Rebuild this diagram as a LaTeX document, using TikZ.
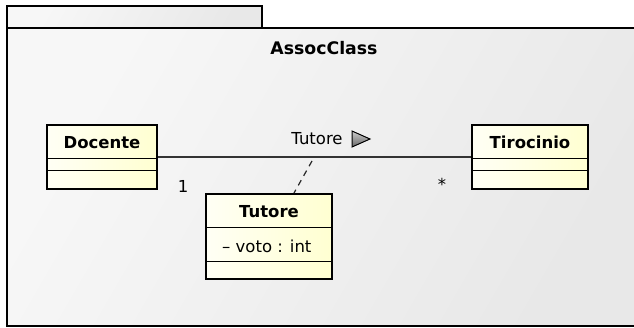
\documentclass[tikz,border=0pt]{standalone}
\usepackage{fontspec}
\setmainfont{DejaVu Sans}
\begin{document}
\begin{tikzpicture}[x=1pt,y=-1pt,
  pkg/.style={draw=black,line width=2pt,left color=white!97!black,right color=black!9,shading angle=60},
  classbox/.style={draw=black,line width=2pt,left color=yellow!4,right color=yellow!18!white,inner sep=0pt},
  comp/.style={draw=black,line width=1pt},
  cname/.style={font=\bfseries\fontsize{16.5}{18}\selectfont,inner sep=0pt,anchor=base},
  txt/.style={font=\fontsize{16.5}{18}\selectfont,inner sep=0pt},
  assoc/.style={draw=black!80,line width=1.2pt}]
\useasboundingbox (0,0) rectangle (634,328);
% package
\path[pkg] (7,6) rectangle (262,28.5);
\path[pkg] (7,28.5) rectangle (640,326);
\node[font=\bfseries\fontsize{17.3}{19}\selectfont,inner sep=0pt,anchor=base] (title) at (324,55) {AssocClass};
% classes
\node[classbox,minimum width=110pt,minimum height=64pt] (doc) at (102,157) {};
\node[cname] (docn) at (102,148.5) {Docente};
\draw[comp] ([yshift=-35pt]doc.north west) -- ([yshift=-35pt]doc.north east);
\draw[comp] ([yshift=-47pt]doc.north west) -- ([yshift=-47pt]doc.north east);
\node[classbox,minimum width=116pt,minimum height=64pt] (tir) at (530,157) {};
\node[cname] (tirn) at (530,148.5) {Tirocinio};
\draw[comp] ([yshift=-35pt]tir.north west) -- ([yshift=-35pt]tir.north east);
\draw[comp] ([yshift=-47pt]tir.north west) -- ([yshift=-47pt]tir.north east);
\node[classbox,minimum width=126pt,minimum height=85pt] (tut) at (269,236.5) {};
\node[cname] (tutn) at (269,217.5) {Tutore};
\draw[comp] ([yshift=-35pt]tut.north west) -- ([yshift=-35pt]tut.north east);
\draw[comp] ([yshift=-69pt]tut.north west) -- ([yshift=-69pt]tut.north east);
\node[txt,anchor=base west] (attr) at (222,253) {– voto : int};
% association
\draw[assoc] (doc.east) -- (tir.west);
\node[txt,anchor=base] (alab) at (317,145) {Tutore};
\path[draw=black,line width=1pt,left color=black!20,right color=black!60,shading angle=0] (352,131) -- (352,147) -- (370,139) -- cycle;
\node[txt] (m1) at (183,186) {1};
\node[txt] (m2) at (442,184) {*};
\coordinate (dtop) at (312,161);
\draw[black!85,line width=1.2pt,dash pattern=on 6pt off 5pt] (dtop) -- (tut.north -| 294,0) ;
\end{tikzpicture}
\end{document}
